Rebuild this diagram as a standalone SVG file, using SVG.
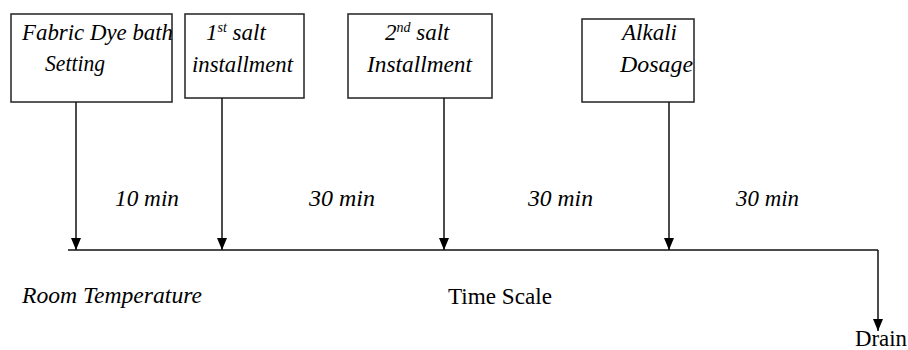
<svg xmlns="http://www.w3.org/2000/svg" width="908" height="350" viewBox="0 0 908 350">
  <style>
    .box { fill: #fff; stroke: #222; stroke-width: 1.5; }
    .it { font-family: "Liberation Serif", "Times New Roman", serif; font-style: italic; font-size: 23px; fill: #000; }
    .up { font-family: "Liberation Serif", "Times New Roman", serif; font-size: 23px; fill: #000; }
    .sup { font-size: 14px; }
    .ln { stroke: #111; stroke-width: 1.5; fill: none; }
  </style>
  <defs>
    <marker id="arr" viewBox="0 0 12 10" refX="12" refY="5" markerWidth="12" markerHeight="10" markerUnits="userSpaceOnUse" orient="auto">
      <path d="M0,0 L12,5 L0,10 Z" fill="#000"/>
    </marker>
  </defs>

  <g id="node-fabric">
    <rect class="box" x="11" y="14" width="161" height="88"/>
    <text class="it" x="22" y="40" textLength="151" lengthAdjust="spacingAndGlyphs">Fabric Dye bath</text>
    <text class="it" x="45" y="71" textLength="60" lengthAdjust="spacingAndGlyphs">Setting</text>
  </g>
  <g id="node-salt1">
    <rect class="box" x="185" y="14" width="119" height="84"/>
    <text class="it" x="206" y="40">1<tspan class="sup" dy="-8">st</tspan><tspan dy="8"> salt</tspan></text>
    <text class="it" x="192" y="72" textLength="101" lengthAdjust="spacingAndGlyphs">installment</text>
  </g>
  <g id="node-salt2">
    <rect class="box" x="348" y="14" width="144" height="84"/>
    <text class="it" x="385" y="40">2<tspan class="sup" dy="-8">nd</tspan><tspan dy="8"> salt</tspan></text>
    <text class="it" x="367" y="72" textLength="105" lengthAdjust="spacingAndGlyphs">Installment</text>
  </g>
  <g id="node-alkali">
    <rect class="box" x="582" y="19" width="112" height="83"/>
    <text class="it" x="622" y="40" textLength="55" lengthAdjust="spacingAndGlyphs">Alkali</text>
    <text class="it" x="620" y="72" textLength="73" lengthAdjust="spacingAndGlyphs">Dosage</text>
  </g>
  <g id="node-drain">
    <text class="up" x="855" y="346" textLength="52" lengthAdjust="spacingAndGlyphs">Drain</text>
  </g>

  <g id="connectors">
    <line class="ln" x1="68" y1="250" x2="878" y2="250"/>
    <line class="ln" x1="76" y1="102" x2="76" y2="250" marker-end="url(#arr)"/>
    <line class="ln" x1="222" y1="98" x2="222" y2="250" marker-end="url(#arr)"/>
    <line class="ln" x1="444" y1="98" x2="444" y2="250" marker-end="url(#arr)"/>
    <line class="ln" x1="669" y1="102" x2="669" y2="250" marker-end="url(#arr)"/>
    <line class="ln" x1="878" y1="250" x2="878" y2="331" marker-end="url(#arr)"/>
  </g>

  <g id="labels">
    <text class="it" x="115" y="206" textLength="64" lengthAdjust="spacingAndGlyphs">10 min</text>
    <text class="it" x="309" y="206" textLength="66" lengthAdjust="spacingAndGlyphs">30 min</text>
    <text class="it" x="528" y="206" textLength="65" lengthAdjust="spacingAndGlyphs">30 min</text>
    <text class="it" x="736" y="206" textLength="63" lengthAdjust="spacingAndGlyphs">30 min</text>
    <text class="it" x="22" y="303" textLength="180" lengthAdjust="spacingAndGlyphs">Room Temperature</text>
    <text class="up" x="448" y="304" textLength="104" lengthAdjust="spacingAndGlyphs">Time Scale</text>
  </g>
</svg>
